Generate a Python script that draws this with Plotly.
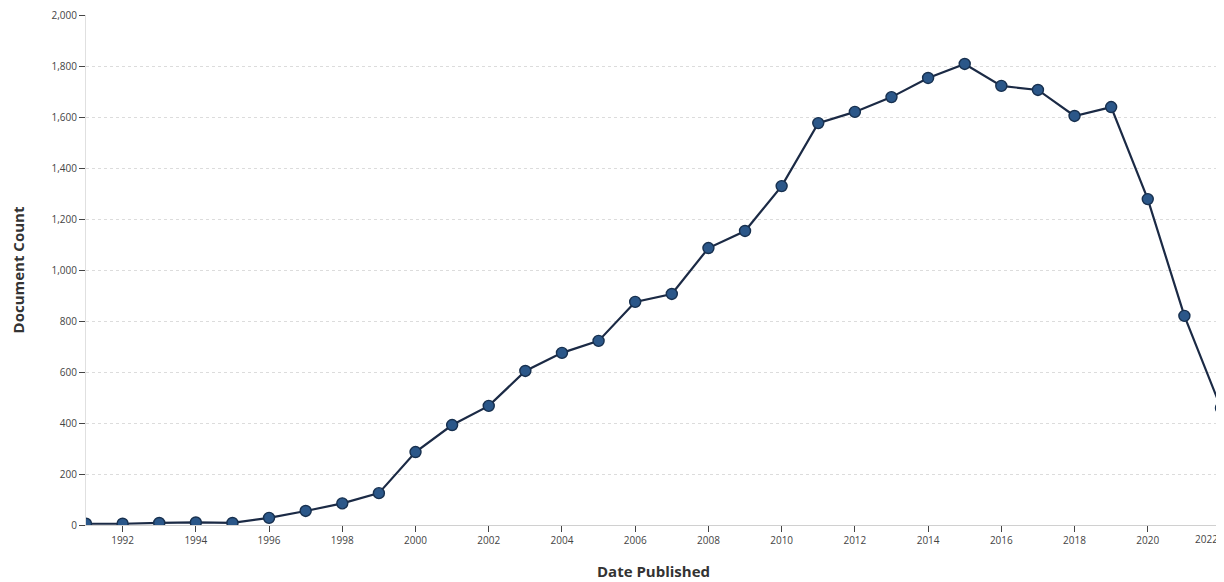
import plotly.graph_objects as go

years = list(range(1991, 2023))
counts = [5, 5, 8, 10, 8, 28, 55, 85, 125, 286, 392, 467, 604, 675, 722, 875,
          906, 1086, 1153, 1329, 1576, 1620, 1678, 1753, 1808, 1722, 1706, 1604,
          1639, 1278, 820, 459]
y_ticks = list(range(0, 2001, 200))
x_ticks = list(range(1992, 2023, 2))
x_ticktext = [str(v) for v in x_ticks]
last_label = x_ticktext[-1]
x_ticktext[-1] = ""

fig = go.Figure()
fig.add_trace(go.Scatter(
    x=years, y=counts, mode="lines+markers",
    line=dict(color="#1b2a45", width=2.2),
    marker=dict(size=11, color="#2b5789", line=dict(color="#17304f", width=1.4)),
    cliponaxis=True, showlegend=False,
))

# last tick label pulled inside the page edge, as in the reference
fig.add_annotation(
    x=x_ticks[-1], xref="x", y=0, yref="paper",
    text=last_label, showarrow=False,
    xanchor="right", yanchor="top", yshift=-5, xshift=-1,
    font=dict(size=10, color="#444", family="Open Sans, sans-serif"),
)

fig.update_layout(
    width=1216, height=574,
    margin=dict(l=78, r=3, t=7, b=57, autoexpand=False),
    paper_bgcolor="white", plot_bgcolor="white",
    font=dict(family="Open Sans, sans-serif", color="#333"),
    xaxis=dict(
        range=[1991, 2022], tickvals=x_ticks, ticktext=x_ticktext,
        ticks="outside", ticklen=6, tickcolor="#444", tickwidth=1,
        ticklabeloverflow="allow", automargin=False,
        showgrid=False, zeroline=False,
        showline=True, linecolor="#d0d0d0", linewidth=1,
        tickfont=dict(size=10, color="#444"),
        title=dict(text="<b>Date Published</b>", font=dict(size=15, color="#333"), standoff=20),
    ),
    yaxis=dict(
        range=[0, 2000], tickvals=y_ticks, tickformat=",",
        ticks="outside", ticklen=6, tickcolor="#444", tickwidth=1,
        ticklabeloverflow="allow", automargin=False,
        showgrid=True, gridcolor="#dcdcdc", griddash="dot", gridwidth=1,
        zeroline=False,
        showline=True, linecolor="#e0e0e0", linewidth=1,
        tickfont=dict(size=10, color="#444"),
        title=dict(text="<b>Document Count</b>", font=dict(size=15, color="#333"), standoff=24),
    ),
)

fig.write_html("out.html")
